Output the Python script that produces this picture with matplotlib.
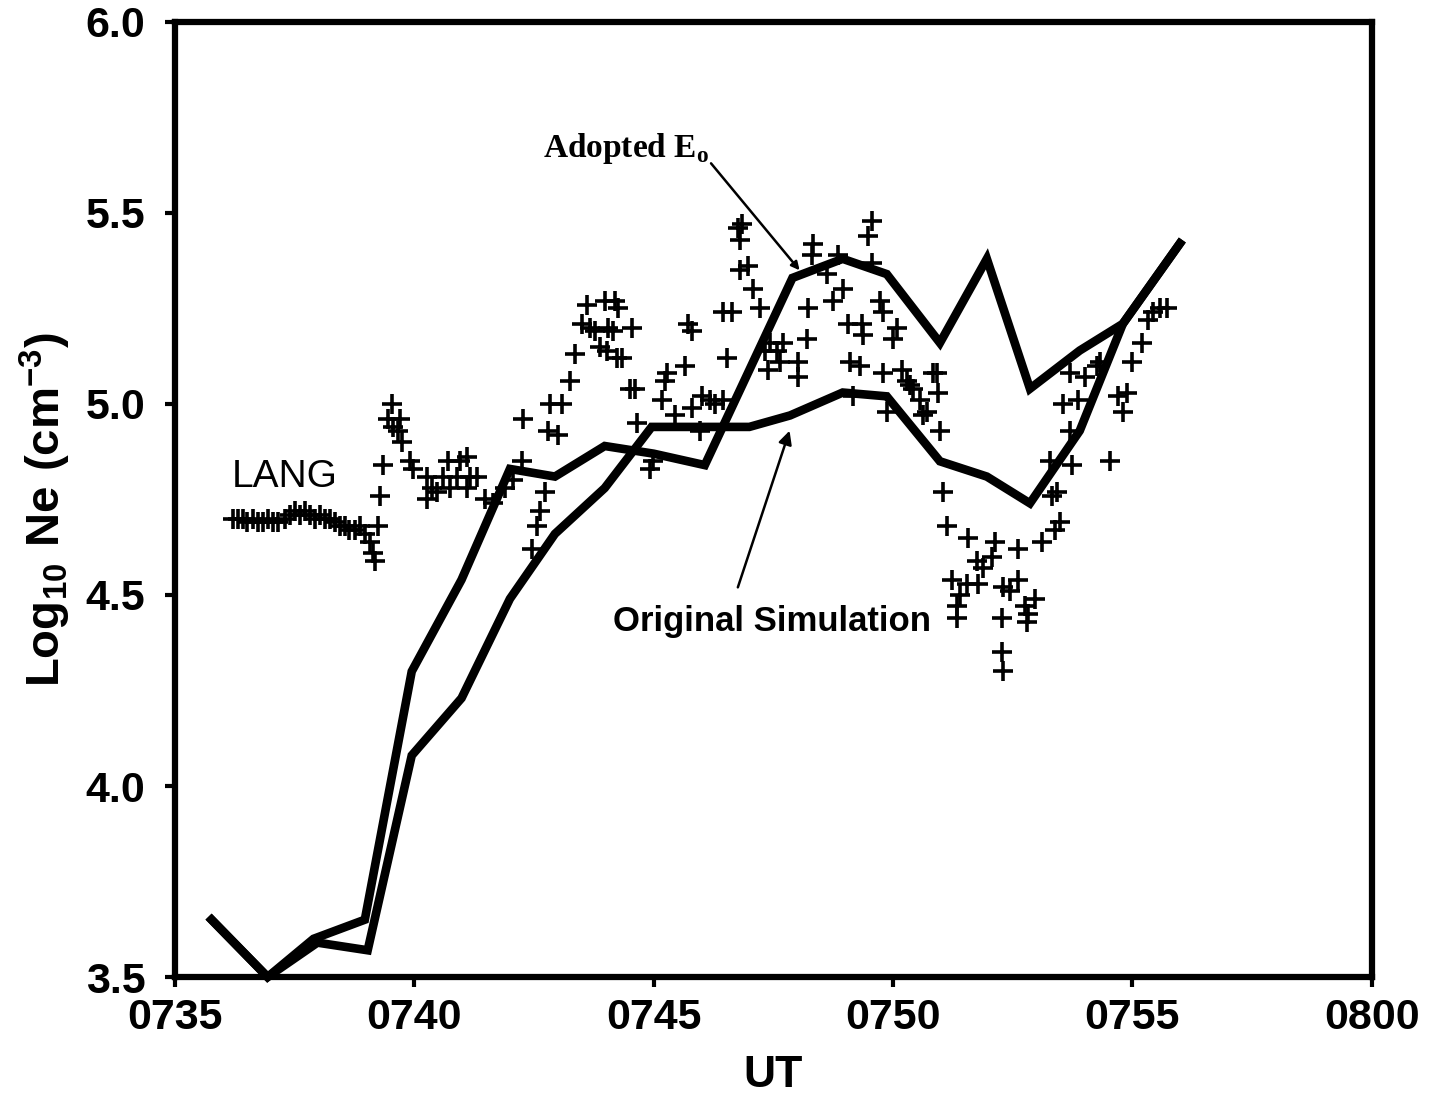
import numpy as np
import matplotlib
matplotlib.use("Agg")
import matplotlib.pyplot as plt

# UT in minutes after 07:00, values in log10 Ne (cm^-3)
t_lang = [36.21, 36.32, 36.42, 36.52, 36.63, 36.73, 36.84, 36.94, 37.05, 37.15,
          37.30, 37.40, 37.51, 37.61, 37.72, 37.82, 37.92, 38.03, 38.13, 38.24,
          38.34, 38.45, 38.55, 38.65, 38.76, 38.86, 38.97, 39.07, 39.14, 39.18,
          39.24, 39.28, 39.34,
          39.45, 39.53, 39.55, 39.66, 39.70, 39.74, 39.91, 39.97, 40.26, 40.37,
          40.26, 40.47, 40.60, 40.70, 40.74, 40.89, 40.95, 41.10, 41.16, 41.31,
          41.10, 41.47, 41.64, 41.89, 42.06, 42.25, 42.27, 42.46, 42.56, 42.62,
          42.73, 42.79, 43.00, 42.83, 43.08, 43.25, 43.35, 43.50, 43.60, 43.67,
          43.77, 43.88, 43.98, 44.04, 44.19, 44.25, 44.15, 44.02, 44.23, 44.34,
          44.54, 44.50, 44.61, 44.65, 44.92, 44.98,
          45.71, 45.80, 46.45, 46.53, 45.65, 45.28, 45.23, 45.17, 45.44, 45.80,
          46.01, 46.17, 46.28, 46.45, 45.96,
          46.76, 46.84, 46.80, 46.80, 46.97, 47.07, 47.22, 46.63, 47.32, 47.43,
          47.57, 47.70, 47.39, 47.64, 48.01, 48.01, 48.20, 48.22,
          48.33, 48.30, 48.85, 48.62, 49.56, 49.47, 49.56, 48.95, 48.74, 49.72,
          49.79, 49.06, 49.35, 49.37, 50.08, 50.00, 49.10, 49.31, 49.79, 50.18,
          50.29, 50.41, 50.56, 50.83, 50.71, 49.16, 49.87, 50.35, 50.94, 50.62,
          50.98, 50.91,
          51.04, 51.12, 51.56, 52.13, 52.61, 53.11, 53.38, 51.75, 51.88, 52.06,
          51.23, 51.54, 51.77, 52.29, 52.61, 52.44, 51.40, 51.33, 51.33, 52.75,
          52.96, 52.82, 52.79, 52.27, 52.27, 52.29, 53.32, 53.48,
          55.72, 55.57, 55.43, 55.32, 55.20, 54.99, 54.88, 54.69, 54.80, 54.53,
          54.32, 54.26, 54.01, 53.69, 53.55, 53.86, 53.69, 53.27, 53.73, 53.42]
ne_lang = [4.70, 4.70, 4.70, 4.69, 4.70, 4.69, 4.69, 4.70, 4.69, 4.69,
           4.70, 4.71, 4.72, 4.71, 4.72, 4.71, 4.70, 4.71, 4.70, 4.70,
           4.69, 4.68, 4.68, 4.67, 4.67, 4.68, 4.66, 4.64, 4.61, 4.59,
           4.68, 4.76, 4.84,
           4.96, 5.00, 4.94, 4.93, 4.96, 4.90, 4.85, 4.83, 4.81, 4.78,
           4.75, 4.77, 4.81, 4.85, 4.78, 4.81, 4.85, 4.86, 4.81, 4.81,
           4.78, 4.75, 4.74, 4.78, 4.80, 4.85, 4.96, 4.62, 4.68, 4.72,
           4.77, 4.93, 4.92, 5.00, 5.00, 5.06, 5.13, 5.21, 5.26, 5.20,
           5.19, 5.15, 5.27, 5.20, 5.27, 5.25, 5.19, 5.14, 5.12, 5.12,
           5.20, 5.04, 5.04, 4.95, 4.83, 4.85,
           5.21, 5.19, 5.24, 5.12, 5.10, 5.08, 5.06, 5.01, 4.97, 4.99,
           5.02, 5.01, 5.00, 5.01, 4.93,
           5.46, 5.47, 5.43, 5.35, 5.36, 5.30, 5.25, 5.24, 5.14, 5.16,
           5.14, 5.16, 5.09, 5.11, 5.11, 5.07, 5.17, 5.25,
           5.42, 5.39, 5.39, 5.34, 5.48, 5.44, 5.37, 5.30, 5.27, 5.27,
           5.24, 5.21, 5.21, 5.18, 5.20, 5.17, 5.11, 5.10, 5.08, 5.09,
           5.06, 5.04, 5.01, 5.08, 4.98, 5.02, 4.98, 5.05, 5.03, 4.97,
           4.93, 5.08,
           4.77, 4.68, 4.65, 4.64, 4.62, 4.64, 4.67, 4.59, 4.57, 4.60,
           4.54, 4.53, 4.53, 4.52, 4.54, 4.51, 4.50, 4.47, 4.44, 4.47,
           4.49, 4.45, 4.43, 4.44, 4.35, 4.30, 4.76, 4.69,
           5.25, 5.25, 5.24, 5.22, 5.16, 5.11, 5.03, 5.02, 4.98, 4.85,
           5.11, 5.10, 5.07, 5.08, 5.00, 5.01, 4.93, 4.85, 4.84, 4.77]

t_adopted = [35.77, 36.94, 37.90, 38.97, 39.95, 40.99, 42.00, 42.94, 43.98,
             45.00, 46.07, 47.90, 48.95, 49.87, 50.98, 51.96, 52.86, 53.90,
             54.80, 55.99]
ne_adopted = [3.65, 3.50, 3.60, 3.65, 4.30, 4.54, 4.83, 4.81, 4.89,
              4.87, 4.84, 5.33, 5.38, 5.34, 5.16, 5.38, 5.04, 5.14,
              5.21, 5.42]

t_original = [35.77, 36.94, 37.98, 39.03, 39.95, 40.99, 42.00, 42.94, 43.98,
              44.96, 47.00, 47.85, 48.95, 49.87, 50.98, 51.96, 52.86, 53.90,
              54.80, 55.99]
ne_original = [3.65, 3.50, 3.59, 3.57, 4.08, 4.23, 4.49, 4.66, 4.78,
               4.94, 4.94, 4.97, 5.03, 5.02, 4.85, 4.81, 4.74, 4.93,
               5.21, 5.42]

x_ticks = [35, 40, 45, 50, 55, 60]
x_labels = ["0735", "0740", "0745", "0750", "0755", "0800"]
y_ticks = [3.5, 4.0, 4.5, 5.0, 5.5, 6.0]

plt.rcParams['font.family'] = ['Liberation Sans', 'DejaVu Sans']
plt.rcParams['mathtext.fontset'] = 'custom'
plt.rcParams['mathtext.rm'] = 'Liberation Sans'
plt.rcParams['mathtext.bf'] = 'Liberation Sans:bold'

fig = plt.figure(figsize=(14.32, 10.99), dpi=100)
ax = fig.add_axes([0.122, 0.111, 0.836, 0.869])

ax.plot(t_adopted, ne_adopted, color='black', lw=6.2, solid_joinstyle='miter',
        zorder=3, clip_on=False)
ax.plot(t_original, ne_original, color='black', lw=6.2, solid_joinstyle='miter',
        zorder=3, clip_on=False)
ax.plot(t_lang, ne_lang, linestyle='none', marker='+', color='black',
        markersize=15, markeredgewidth=2.6, zorder=4)

ax.set_xlim(35, 60)
ax.set_ylim(3.5, 6.0)
ax.set_xticks(x_ticks)
ax.set_xticklabels(x_labels)
ax.set_yticks(y_ticks)
ax.set_yticklabels([f"{v:.1f}" for v in y_ticks])

for s in ax.spines.values():
    s.set_linewidth(4.5)
ax.tick_params(axis='both', direction='out', length=7, width=3, labelsize=31)
ax.tick_params(axis='x', pad=8)
ax.tick_params(axis='y', pad=14)
for lab in ax.get_xticklabels() + ax.get_yticklabels():
    lab.set_fontweight('bold')

ax.set_xlabel("UT", fontsize=32, fontweight='bold', labelpad=12)
ax.set_ylabel(r"$\mathbf{Log_{10}\ Ne\ (cm^{-3})}$", fontsize=34, labelpad=10)
ax.yaxis.set_label_coords(-0.085, 0.49)

ax.text(36.19, 4.81, "LANG", fontsize=28, ha='left', va='center')

# Adopted E0 label with leader line
ax.text(44.42, 5.67, r"Adopted E$_\mathregular{o}$", fontsize=24,
        fontweight='bold', family='Liberation Serif', ha='center', va='center')
ax.annotate("", xy=(48.05, 5.35), xytext=(46.2, 5.63),
            arrowprops=dict(arrowstyle='-|>', color='black', lw=1.8,
                            mutation_scale=12, shrinkA=0, shrinkB=0))

# Original Simulation label with arrow
ax.text(47.47, 4.43, "Original Simulation", fontsize=25, fontweight='bold',
        ha='center', va='center')
ax.annotate("", xy=(47.84, 4.93), xytext=(46.76, 4.52),
            arrowprops=dict(arrowstyle='-|>', color='black', lw=1.8,
                            mutation_scale=20, shrinkA=0, shrinkB=0))

fig.savefig("out.png", dpi=100)
